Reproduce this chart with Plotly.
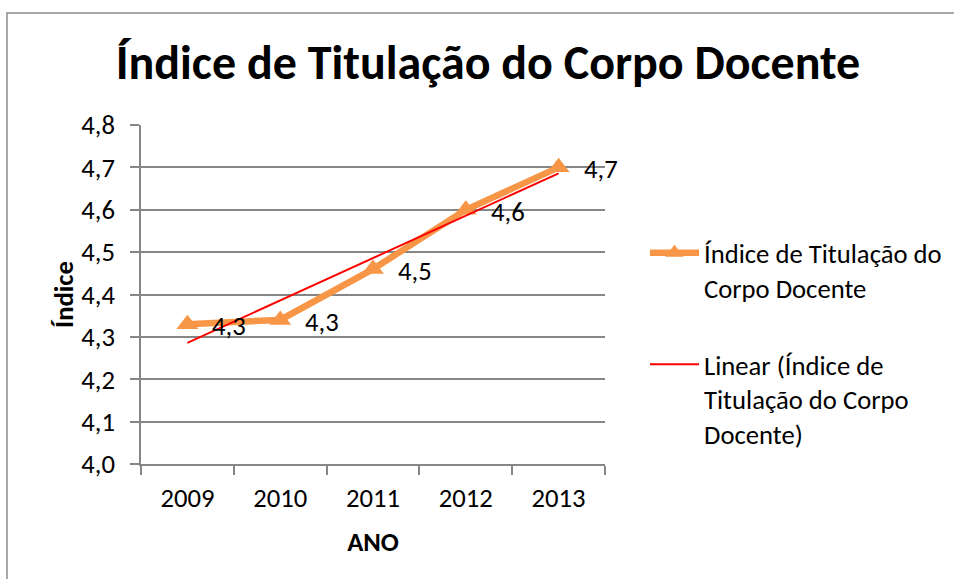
import numpy as np
import plotly.graph_objects as go

years = ["2009", "2010", "2011", "2012", "2013"]
values = [4.33, 4.34, 4.46, 4.60, 4.70]
labels = ["4,3", "4,3", "4,5", "4,6", "4,7"]
y_ticks = [4.0, 4.1, 4.2, 4.3, 4.4, 4.5, 4.6, 4.7, 4.8]
y_ticktext = ["4,0", "4,1", "4,2", "4,3", "4,4", "4,5", "4,6", "4,7", "4,8"]
title = "Índice de Titulação do Corpo Docente"
series_name = "Índice de Titulação do<br>Corpo Docente"
trend_name = "Linear (Índice de<br>Titulação do Corpo<br>Docente)"

idx = np.arange(len(values))
slope, intercept = np.polyfit(idx, values, 1)
trend = list(slope * idx + intercept)

FONT = "Carlito, Calibri, Lato, sans-serif"
FS = 26.67
ORANGE = "#F79646"
GRID = "#868686"

W, H = 954, 579
L, T, R, B = 141, 125, 349, 115
PW, PH = W - L - R, H - T - B

fig = go.Figure()
fig.add_trace(go.Scatter(
    x=years, y=values, mode="lines+markers", name=series_name,
    legendgroup="a",
    line=dict(color=ORANGE, width=6.5),
    marker=dict(symbol="triangle-up", size=19, color=ORANGE),
    cliponaxis=False,
))
fig.add_trace(go.Scatter(
    x=years, y=trend, mode="lines", name=trend_name,
    legendgroup="b",
    line=dict(color="#FF0000", width=2),
))

# data labels: category index positions on the category axis
annotations = [
    dict(x=int(i), y=yv, text=t, xref="x", yref="y", showarrow=False,
         xanchor="left", yanchor="middle", xshift=23, yshift=-2,
         font=dict(size=FS, family=FONT, color="black"))
    for i, yv, t in zip(idx, values, labels)
]

fig.update_layout(
    width=W, height=H,
    margin=dict(l=L, r=R, t=T, b=B, autoexpand=False),
    paper_bgcolor="white", plot_bgcolor="white",
    font=dict(family=FONT, size=FS, color="black"),
    title=dict(text="<b>" + title + "</b>", x=488 / W, xref="container", xanchor="center",
               y=1 - 62.5 / H, yref="container", yanchor="middle",
               font=dict(size=48, family=FONT, color="black")),
    showlegend=True,
    legend=dict(x=645 / W, xref="container", xanchor="left",
                y=1 - 229 / H, yref="container", yanchor="top",
                font=dict(size=FS, family=FONT), valign="top",
                tracegroupgap=39, bgcolor="rgba(0,0,0,0)", itemwidth=49),
    annotations=annotations,
    shapes=[dict(type="rect", xref="paper", yref="paper",
                 x0=(7 - L) / PW, x1=(W + 10 - L) / PW,
                 y0=(H - B - (H + 10)) / PH, y1=(H - B - 13) / PH,
                 line=dict(color="#8C8C8C", width=1.5), fillcolor="rgba(0,0,0,0)",
                 layer="below")],
)

fig.update_xaxes(
    type="category", range=[-0.5, 4.5], tickson="boundaries", ticks="outside", ticklen=9,
    tickcolor=GRID, tickwidth=1.5, ticklabelstandoff=9,
    showline=True, linecolor=GRID, linewidth=1.5, showgrid=False,
    tickfont=dict(size=FS, family=FONT),
    title=dict(text="<b>ANO</b>", font=dict(size=FS, family=FONT), standoff=20),
)
fig.update_yaxes(
    range=[4.0, 4.8], tickvals=y_ticks, ticktext=y_ticktext,
    ticks="outside", ticklen=9, tickcolor=GRID, tickwidth=1.5, ticklabelstandoff=10,
    showline=True, linecolor=GRID, linewidth=1.5,
    showgrid=True, gridcolor=GRID, gridwidth=1.5, zeroline=False,
    tickfont=dict(size=FS, family=FONT),
    title=dict(text="<b>Índice</b>", font=dict(size=FS, family=FONT), standoff=0),
)

fig.write_html("out.html", config={"displayModeBar": False},
               post_script="document.body.style.margin='0';")
